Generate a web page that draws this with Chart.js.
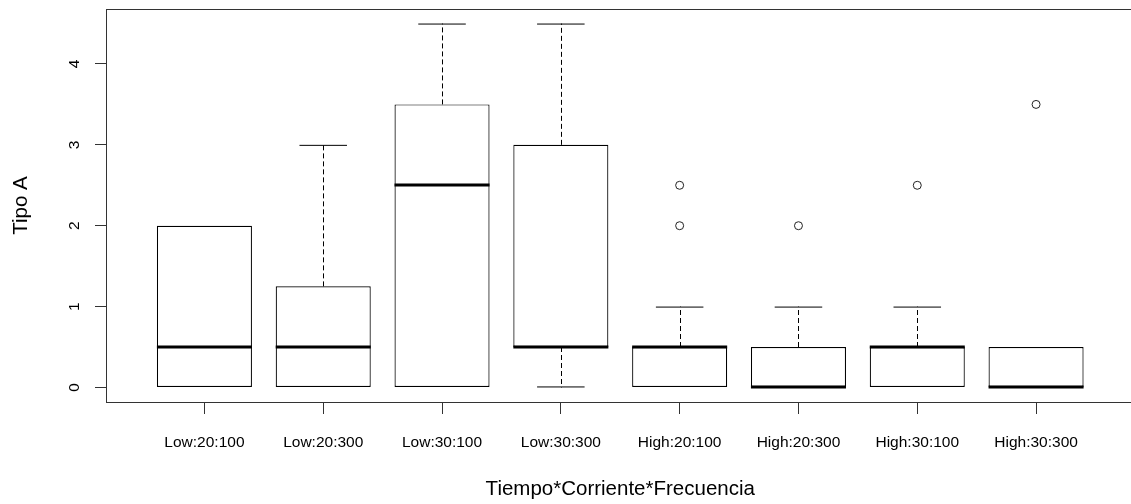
<!DOCTYPE html>
<html>
<head>
<meta charset="utf-8">
<script src="https://cdn.jsdelivr.net/npm/chart.js@4/dist/chart.umd.min.js"></script>
<style>
html,body{margin:0;padding:0;background:#fff;overflow:hidden}
#wrap{width:1131px;height:504px;overflow:hidden;position:relative}
canvas{display:block}
</style>
</head>
<body>
<div id="wrap"><canvas id="c" width="1140" height="504" style="width:1140px;height:504px"></canvas></div>
<script>
// ---- data ----
const categories = ['Low:20:100','Low:20:300','Low:30:100','Low:30:300','High:20:100','High:20:300','High:30:100','High:30:300'];
const positions  = [1,2,3,4,5,6,7,8];
const q1         = [0,   0,    0,   0.5, 0,   0,   0,   0];
const medians    = [0.5, 0.5,  2.5, 0.5, 0.5, 0,   0.5, 0];
const q3         = [2,   1.25, 3.5, 3,   0.5, 0.5, 0.5, 0.5];
const whiskerLow = [0,   0,    0,   0,   0,   0,   0,   0];
const whiskerHigh= [2,   3,    4.5, 4.5, 1,   1,   1,   0.5];
const outlierGroup  = [5, 5, 6, 7, 8];
const outlierValues = [2, 2.5, 2, 2.5, 3.5];
const yTicks = [0,1,2,3,4];
const xTitle = 'Tiempo*Corriente*Frecuencia';
const yTitle = 'Tipo A';

const FONT = "'Liberation Sans', Arial, sans-serif";
const BOX_HALF = 0.4, STAPLE_HALF = 0.2;

const boxParts = {
  id: 'boxParts',
  beforeDatasetsDraw(chart) {
    // whiskers and staples go under the boxes, as in R
    const {ctx, scales:{x, y}} = chart;
    ctx.save();
    ctx.strokeStyle = '#000';
    ctx.lineWidth = 1;
    positions.forEach((p, i) => {
      const cx = Math.round(x.getPixelForValue(p)) + 0.5;
      const segs = [[q3[i], whiskerHigh[i], 0.5], [q1[i], whiskerLow[i], -0.5]];
      segs.forEach(([a, b, d]) => {
        if (a === b) return; // staple hidden by the box edge
        ctx.setLineDash([5,3]);
        ctx.beginPath();
        ctx.moveTo(cx, y.getPixelForValue(a));
        ctx.lineTo(cx, y.getPixelForValue(b));
        ctx.stroke();
        ctx.setLineDash([]);
        const py = y.getPixelForValue(b) + d;
        ctx.beginPath();
        ctx.moveTo(x.getPixelForValue(p - STAPLE_HALF), py);
        ctx.lineTo(x.getPixelForValue(p + STAPLE_HALF), py);
        ctx.stroke();
      });
    });
    ctx.restore();
  },
  afterDatasetsDraw(chart) {
    const {ctx, scales:{x, y}} = chart;
    ctx.save();
    ctx.strokeStyle = '#000';
    ctx.lineWidth = 3;
    positions.forEach((p, i) => {
      const my = Math.round(y.getPixelForValue(medians[i]));
      ctx.beginPath();
      ctx.moveTo(x.getPixelForValue(p - BOX_HALF), my);
      ctx.lineTo(x.getPixelForValue(p + BOX_HALF), my);
      ctx.stroke();
    });
    ctx.restore();
  },
  afterDraw(chart) {
    const {ctx, chartArea: a, scales:{y}} = chart;
    ctx.save();
    ctx.strokeStyle = '#333';
    ctx.lineWidth = 1;
    ctx.strokeRect(Math.round(a.left) - 0.5, Math.round(a.top) + 0.5, Math.round(a.right - a.left), Math.round(a.bottom - a.top));
    ctx.fillStyle = '#000';
    ctx.font = '15.5px ' + FONT;
    ctx.textAlign = 'center';
    ctx.textBaseline = 'alphabetic';
    yTicks.forEach(v => {
      ctx.save();
      ctx.translate(a.left - 28.5, y.getPixelForValue(v));
      ctx.rotate(-Math.PI / 2);
      ctx.fillText(String(v), 0, 0);
      ctx.restore();
    });
    ctx.restore();
  }
};

new Chart(document.getElementById('c'), {
  type: 'bar',
  data: {
    datasets: [{
      type: 'bar',
      data: positions.map((p, i) => ({x: p, y: [q1[i], q3[i]]})),
      backgroundColor: '#fff',
      borderColor: '#000',
      borderWidth: 1.2,
      borderSkipped: false,
      categoryPercentage: 1,
      barPercentage: 2 * BOX_HALF,
      order: 2
    }, {
      type: 'scatter',
      data: outlierGroup.map((g, i) => ({x: g, y: outlierValues[i]})),
      pointStyle: 'circle',
      pointRadius: 4,
      borderWidth: 1,
      borderColor: '#222',
      backgroundColor: 'rgba(255,255,255,0)',
      order: 1
    }]
  },
  options: {
    responsive: false,
    devicePixelRatio: 1,
    animation: false,
    events: [],
    layout: {padding: {left: 0, top: 9, right: 6.5, bottom: 0}},
    plugins: {legend: {display: false}, tooltip: {enabled: false}},
    scales: {
      x: {
        type: 'linear',
        min: 0.18, max: 8.82,
        offset: false,
        afterBuildTicks: s => { s.ticks = positions.map(v => ({value: v})); },
        afterFit: s => { s.height = 102; },
        border: {display: false},
        grid: {display: true, drawOnChartArea: false, drawTicks: true, tickLength: 12, tickColor: '#333', tickWidth: 1, offset: false},
        ticks: {
          autoSkip: false, maxRotation: 0, minRotation: 0, padding: 19,
          color: '#000', font: {family: FONT, size: 15.5},
          callback: v => categories[positions.indexOf(v)]
        },
        title: {display: true, text: xTitle, color: '#000', font: {family: FONT, size: 20.5}, padding: {top: 0, bottom: 2}}
      },
      y: {
        type: 'linear',
        min: -0.18, max: 4.68,
        afterBuildTicks: s => { s.ticks = yTicks.map(v => ({value: v})); },
        afterFit: s => { s.width = 107; },
        border: {display: false},
        grid: {display: true, drawOnChartArea: false, drawTicks: true, tickLength: 12, tickColor: '#333', tickWidth: 1},
        ticks: {display: false},
        title: {display: true, text: yTitle, color: '#000', font: {family: FONT, size: 20.5}, padding: {top: 9, bottom: 0}}
      }
    }
  },
  plugins: [boxParts]
});
</script>
</body>
</html>
